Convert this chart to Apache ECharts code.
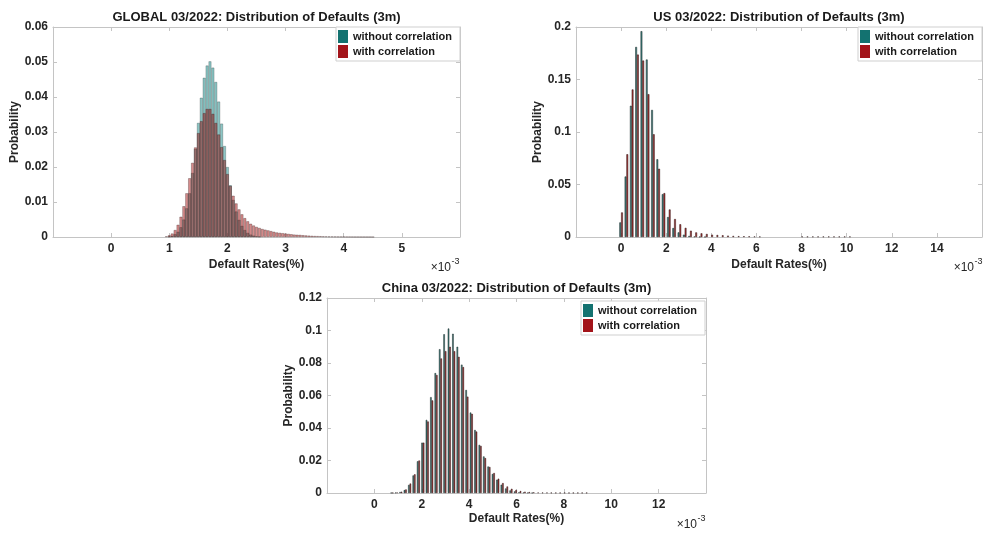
<!DOCTYPE html>
<html><head><meta charset="utf-8">
<script src="https://cdn.jsdelivr.net/npm/echarts/dist/echarts.min.js"></script>
<style>html,body{margin:0;padding:0;background:#fff}#c{width:984px;height:534px}</style>
</head><body><div id="c"></div>
<script>
// ---------- DATA (default rates in units of 1e-3 %) ----------
const seriesNames = ['without correlation', 'with correlation'];
const titles = ['GLOBAL 03/2022: Distribution of Defaults (3m)', 'US 03/2022: Distribution of Defaults (3m)', 'China 03/2022: Distribution of Defaults (3m)'];
const globalXTicks = [0, 1, 2, 3, 4, 5];
const usXTicks = [0, 2, 4, 6, 8, 10, 12, 14];
const chinaXTicks = [0, 2, 4, 6, 8, 10, 12];

const globalBins = [
  0.95, 1.00, 1.05, 1.10, 1.15, 1.20, 1.25, 1.30, 1.35, 1.40,
  1.45, 1.50, 1.55, 1.60, 1.65, 1.70, 1.75, 1.80, 1.85, 1.90,
  1.95, 2.00, 2.05, 2.10, 2.15, 2.20, 2.25, 2.30, 2.35, 2.40,
  2.45, 2.50, 2.55, 2.60, 2.65, 2.70, 2.75, 2.80, 2.85, 2.90,
  2.95, 3.00, 3.05, 3.10, 3.15, 3.20, 3.25, 3.30, 3.35, 3.40,
  3.45, 3.50, 3.55, 3.60, 3.65, 3.70, 3.75, 3.80, 3.85, 3.90,
  3.95, 4.00, 4.05, 4.10, 4.15, 4.20, 4.25, 4.30, 4.35, 4.40,
  4.45, 4.50
];
const globalWithout = [
  0, 0.0001, 0.0003, 0.0008, 0.0015, 0.0028, 0.0050, 0.0082, 0.0125, 0.0183,
  0.0252, 0.0326, 0.0398, 0.0455, 0.0490, 0.0502, 0.0484, 0.0443, 0.0387, 0.0324,
  0.0260, 0.0200, 0.0148, 0.0106, 0.0073, 0.0049, 0.0032, 0.0020, 0.0012, 0.0007,
  0.0004, 0.0002, 0.0001, 0, 0, 0, 0, 0, 0, 0,
  0, 0, 0, 0, 0, 0, 0, 0, 0, 0,
  0, 0, 0, 0, 0, 0, 0, 0, 0, 0,
  0, 0, 0, 0, 0, 0, 0, 0, 0, 0,
  0, 0
];
const globalWith = [
  0.0002, 0.0005, 0.0010, 0.0020, 0.0035, 0.0058, 0.0088, 0.0125, 0.0168, 0.0212,
  0.0256, 0.0297, 0.0331, 0.0354, 0.0366, 0.0366, 0.0352, 0.0326, 0.0293, 0.0257,
  0.0220, 0.0180, 0.0146, 0.0118, 0.0096, 0.0079, 0.0065, 0.0054, 0.0045, 0.0038,
  0.0033, 0.0029, 0.0026, 0.0023, 0.0021, 0.0019, 0.0017, 0.0015, 0.0013, 0.0012,
  0.0011, 0.0010, 0.0009, 0.0008, 0.0007, 0.00065, 0.0006, 0.00052, 0.00046, 0.0004,
  0.00035, 0.0003, 0.00027, 0.00024, 0.0002, 0.00018, 0.00016, 0.00014, 0.00012, 0.0001,
  0.00009, 0.00008, 0.00007, 0.00006, 0.00005, 0.00004, 0.00004, 0.00003, 0.00003, 0.00002,
  0.00002, 0.00001
];

const usBins = [
  0, 0.235, 0.47, 0.705, 0.94, 1.175, 1.41, 1.645, 1.88, 2.115,
  2.35, 2.585, 2.82, 3.055, 3.29, 3.525, 3.76, 3.995, 4.23, 4.465,
  4.7, 4.935, 5.17, 5.405, 5.64, 5.875, 6.11, 6.345, 6.58, 6.815,
  7.05, 7.285, 7.52, 7.755, 7.99, 8.225, 8.46, 8.695, 8.93, 9.165,
  9.4, 9.635, 9.87, 10.105
];
const usWithout = [
  0.0139, 0.0576, 0.125, 0.181, 0.196, 0.169, 0.121, 0.074, 0.0408, 0.019,
  0.0085, 0.0044, 0.0022, 0.001, 0.0005, 0.0002, 0.0001, 0, 0, 0,
  0, 0, 0, 0, 0, 0, 0, 0, 0, 0,
  0, 0, 0, 0, 0, 0, 0, 0, 0, 0,
  0, 0, 0, 0
];
const usWith = [
  0.0234, 0.0788, 0.1405, 0.1737, 0.168, 0.136, 0.0978, 0.065, 0.0418, 0.0262,
  0.0171, 0.0121, 0.0087, 0.006, 0.0044, 0.0035, 0.0029, 0.0022, 0.0019, 0.0016,
  0.0013, 0.001, 0.0008, 0.0007, 0.0006, 0.0005, 0.0004, 0, 0, 0,
  0, 0, 0, 0, 0.0004, 0.0004, 0.0004, 0.0004, 0.0004, 0.0004,
  0.0004, 0.0004, 0.0004, 0.0004
];

const chinaBins = [
  0.558, 0.744, 0.93, 1.116, 1.302, 1.488, 1.674, 1.86, 2.046, 2.232,
  2.418, 2.604, 2.79, 2.976, 3.162, 3.348, 3.534, 3.72, 3.906, 4.092,
  4.278, 4.464, 4.65, 4.836, 5.022, 5.208, 5.394, 5.58, 5.766, 5.952,
  6.138, 6.324, 6.51, 6.696, 6.882, 7.068, 7.254, 7.44, 7.626, 7.812,
  7.998, 8.184, 8.37, 8.556, 8.742, 8.928
];
const chinaWithout = [
  0, 0.0001, 0.0002, 0.0006, 0.0018, 0.005, 0.0108, 0.0195, 0.031, 0.045,
  0.059, 0.0738, 0.0885, 0.0977, 0.1012, 0.098, 0.090, 0.079, 0.0634, 0.0495,
  0.0388, 0.0296, 0.0225, 0.0163, 0.0117, 0.0082, 0.0051, 0.0028, 0.0016, 0.001,
  0.0005, 0.0003, 0.0002, 0.0001, 0, 0, 0, 0, 0, 0,
  0, 0, 0, 0, 0, 0
];
const chinaWith = [
  0, 0.0001, 0.0003, 0.0008, 0.0022, 0.0058, 0.0115, 0.020, 0.031, 0.044,
  0.057, 0.0726, 0.0828, 0.0873, 0.090, 0.0873, 0.0838, 0.0775, 0.0593, 0.0487,
  0.0378, 0.029, 0.0215, 0.016, 0.0123, 0.0088, 0.0061, 0.004, 0.0026, 0.0018,
  0.0012, 0.0008, 0.0006, 0.0004, 0.0003, 0.0002, 0.0002, 0.00015, 0.00012, 0.0001,
  0.0001, 0.0001, 0.0001, 0.0001, 0.0001, 0.0001
];

// ---------- STYLE / LAYOUT ----------
const FONT = "'Liberation Sans', Arial, Helvetica, sans-serif";
const TXT = '#262626';
const AXC = '#c4c4c4';
const TEAL = '#137270';
const RED = '#a3141a';

const grids = [
  {left: 53, top: 27, width: 407, height: 210},
  {left: 576, top: 27, width: 406, height: 210},
  {left: 327, top: 298, width: 379, height: 195}
];
const xCfg = [
  {min: -1, max: 6, interval: 1, ticks: globalXTicks, nameGap: 22},
  {min: -2, max: 16, interval: 2, ticks: usXTicks, nameGap: 22},
  {min: -2, max: 14, interval: 2, ticks: chinaXTicks, nameGap: 20}
];
const yCfg = [
  {max: 0.06, interval: 0.01, nameGap: 32},
  {max: 0.2, interval: 0.05, nameGap: 32},
  {max: 0.12, interval: 0.02, nameGap: 29}
];

function makeFormatter(ticks) {
  return function (val) {
    const r = Math.round(val * 1000) / 1000;
    return ticks.indexOf(r) >= 0 ? String(r) : '';
  };
}
const lineSt = {show: true, onZero: false, lineStyle: {color: AXC, width: 1}};
const tickSt = {show: true, inside: true, length: 4, lineStyle: {color: AXC}};

const xAxes = [], yAxes = [];
grids.forEach((g, i) => {
  const c = xCfg[i];
  xAxes.push({
    type: 'value', gridIndex: i, position: 'bottom', min: c.min, max: c.max, interval: c.interval,
    name: 'Default Rates(%)', nameLocation: 'middle', nameGap: c.nameGap,
    nameTextStyle: {fontFamily: FONT, fontWeight: 'bold', fontSize: 12, color: TXT},
    axisLine: lineSt, axisTick: tickSt,
    axisLabel: {show: true, margin: 6, fontFamily: FONT, fontWeight: 'bold', fontSize: 12, color: TXT,
      formatter: makeFormatter(c.ticks)},
    splitLine: {show: false}
  });
  xAxes.push({
    type: 'value', gridIndex: i, position: 'top', min: c.min, max: c.max, interval: c.interval,
    axisLine: lineSt, axisTick: tickSt,
    axisLabel: {show: false}, splitLine: {show: false}
  });
  const y = yCfg[i];
  yAxes.push({
    type: 'value', gridIndex: i, position: 'left', min: 0, max: y.max, interval: y.interval,
    name: 'Probability', nameLocation: 'middle', nameGap: y.nameGap,
    nameTextStyle: {fontFamily: FONT, fontWeight: 'bold', fontSize: 12, color: TXT},
    axisLine: lineSt, axisTick: tickSt,
    axisLabel: {show: true, margin: 5, fontFamily: FONT, fontWeight: 'bold', fontSize: 12, color: TXT},
    splitLine: {show: false}
  });
  yAxes.push({
    type: 'value', gridIndex: i, position: 'right', min: 0, max: y.max, interval: y.interval,
    axisLine: lineSt, axisTick: tickSt,
    axisLabel: {show: false}, splitLine: {show: false}
  });
});

// pair up bin positions with probabilities; empty bins are not drawn
function pairs(xs, ys) { return xs.map((x, i) => [x, ys[i] > 0 ? ys[i] : '-']); }

const series = [
  {type: 'bar', name: seriesNames[0], xAxisIndex: 0, yAxisIndex: 0, data: pairs(globalBins, globalWithout),
    barWidth: '100%', barGap: '-100%',
    itemStyle: {color: 'rgba(0,128,126,0.45)', borderColor: 'rgba(0,20,20,0.4)', borderWidth: 0.6}},
  {type: 'bar', name: seriesNames[1], xAxisIndex: 0, yAxisIndex: 0, data: pairs(globalBins, globalWith),
    barWidth: '100%', barGap: '-100%',
    itemStyle: {color: 'rgba(165,0,0,0.45)', borderColor: 'rgba(30,0,0,0.45)', borderWidth: 0.6}},
  {type: 'bar', name: seriesNames[0], xAxisIndex: 2, yAxisIndex: 2, data: pairs(usBins, usWithout),
    barWidth: '33%', barGap: '0%',
    itemStyle: {color: '#3d8582', borderColor: '#1b2525', borderWidth: 0.5}},
  {type: 'bar', name: seriesNames[1], xAxisIndex: 2, yAxisIndex: 2, data: pairs(usBins, usWith),
    barWidth: '33%', barGap: '0%',
    itemStyle: {color: '#a83232', borderColor: '#2b1515', borderWidth: 0.5}},
  {type: 'bar', name: seriesNames[0], xAxisIndex: 4, yAxisIndex: 4, data: pairs(chinaBins, chinaWithout),
    barWidth: '34%', barGap: '0%',
    itemStyle: {color: '#3d8582', borderColor: '#1b2525', borderWidth: 0.5}},
  {type: 'bar', name: seriesNames[1], xAxisIndex: 4, yAxisIndex: 4, data: pairs(chinaBins, chinaWith),
    barWidth: '34%', barGap: '0%',
    itemStyle: {color: '#a83232', borderColor: '#2b1515', borderWidth: 0.5}}
];

const legendPos = [
  {right: 984 - 460, top: 27},
  {right: 984 - 982, top: 27},
  {right: 984 - 705, top: 301}
];
const legends = legendPos.map(p => ({
  orient: 'vertical', right: p.right, top: p.top, icon: 'rect', itemWidth: 10, itemHeight: 13, itemGap: 2,
  padding: [3, 8, 3, 2], borderColor: '#cfcfcf', borderWidth: 1, backgroundColor: '#fff',
  selectedMode: false,
  textStyle: {fontFamily: FONT, fontWeight: 'bold', fontSize: 11, color: '#1a1a1a'},
  data: [{name: seriesNames[0], itemStyle: {color: TEAL, opacity: 1, borderWidth: 0}},
         {name: seriesNames[1], itemStyle: {color: RED, opacity: 1, borderWidth: 0}}]
}));

const graphics = [];
grids.forEach((g, i) => {
  graphics.push({type: 'text', x: g.left + g.width / 2, y: i === 2 ? 288 : 17,
    style: {text: titles[i], align: 'center', verticalAlign: 'middle',
      font: 'bold 13px ' + FONT, fill: '#1a1a1a'}});
});
const expPos = [{x: 451, y: 268}, {x: 974, y: 268}, {x: 697, y: 525}];
expPos.forEach(p => {
  graphics.push({type: 'text', x: p.x, y: p.y, style: {text: '×10', align: 'right', verticalAlign: 'middle', font: '12px ' + FONT, fill: TXT}});
  graphics.push({type: 'text', x: p.x + 0.5, y: p.y - 6, style: {text: '-3', align: 'left', verticalAlign: 'middle', font: '9px ' + FONT, fill: TXT}});
});

const chart = echarts.init(document.getElementById('c'), null, {renderer: 'canvas'});
chart.setOption({
  backgroundColor: '#ffffff',
  animation: false,
  grid: grids.map(g => Object.assign({outerBoundsMode: 'none', containLabel: false}, g)),
  xAxis: xAxes,
  yAxis: yAxes,
  legend: legends,
  series: series,
  graphic: graphics
});
</script>
</body></html>
